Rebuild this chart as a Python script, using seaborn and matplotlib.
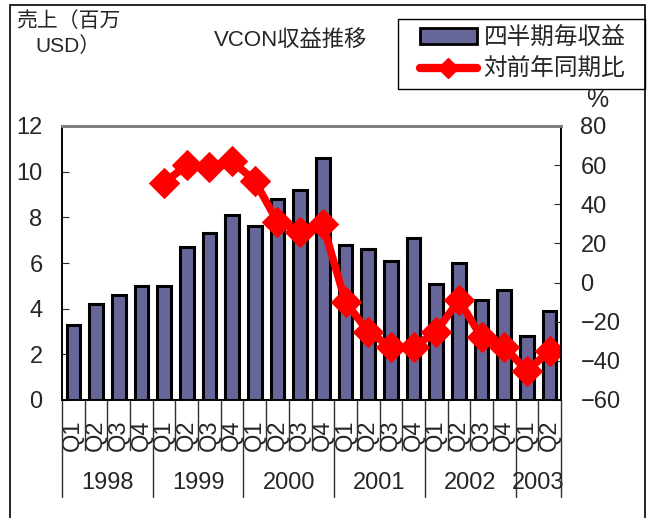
import matplotlib.pyplot as plt
import seaborn as sns
import pandas as pd
from matplotlib.patches import Rectangle, Patch
from matplotlib.lines import Line2D

# data
years = ['1998', '1999', '2000', '2001', '2002', '2003']
year_sizes = [4, 4, 4, 4, 4, 2]
quarters = ['Q1', 'Q2', 'Q3', 'Q4'] * 5 + ['Q1', 'Q2']
revenue = [3.3, 4.2, 4.6, 5.0, 5.0, 6.7, 7.3, 8.1, 7.6, 8.8, 9.2, 10.6,
           6.8, 6.6, 6.1, 7.1, 5.1, 6.0, 4.4, 4.8, 2.8, 3.9]
yoy = [None, None, None, None, 51, 60, 59, 62, 52, 31, 26, 30,
       -10, -25, -33, -33, -25, -9, -28, -33, -45, -35]

bar_color = '#666699'
line_color = '#ff0000'

sns.set_style('white')
plt.rcParams['font.family'] = ['Liberation Sans', 'Noto Sans CJK JP']

df = pd.DataFrame({'pos': range(len(revenue)), 'revenue': revenue,
                   'yoy': pd.to_numeric(pd.Series(yoy), errors='coerce')})

W, H = 648, 518
fig = plt.figure(figsize=(W / 100, H / 100), dpi=100)
ax = fig.add_axes([62 / W, 1 - 400 / H, (561 - 62) / W, 274 / H])

# bars
sns.barplot(data=df, x='pos', y='revenue', color=bar_color, saturation=1,
            edgecolor='black', linewidth=2.2, width=0.6, ax=ax)

# yoy line on second axis
ax2 = ax.twinx()
sns.lineplot(data=df, x='pos', y='yoy', ax=ax2, color=line_color, lw=5.5,
             marker='D', markersize=15, markeredgecolor=line_color)

ax.set_xlim(-0.5, len(revenue) - 0.5)
ax.set_ylim(0, 12)
ax.set_yticks(range(0, 13, 2))
ax2.set_ylim(-60, 80)
ax2.set_yticks(range(-60, 81, 20))
ax.set_xlabel('')
ax.set_ylabel('')
ax2.set_xlabel('')
ax2.set_ylabel('')

ax.set_xticks(range(len(quarters)))
ax.set_xticklabels(quarters, rotation=90)
ax.tick_params(axis='x', length=0, pad=14, labelsize=17)
ax.tick_params(axis='y', direction='in', length=5, labelsize=17, pad=14, left=True)
ax2.tick_params(axis='y', direction='in', length=5, labelsize=17, pad=14, right=True)

for a in (ax, ax2):
    for s in a.spines.values():
        s.set_color('black')
        s.set_linewidth(1.2)
    a.spines['top'].set_color('#808080')
    a.spines['top'].set_linewidth(2)

# category separators below the axis
boundaries = [0]
for n in year_sizes:
    boundaries.append(boundaries[-1] + n)
trans = ax.get_xaxis_transform()
for b in range(len(quarters) + 1):
    depth = -97 / 274 if b in boundaries else -50 / 274
    ax.plot([b - 0.5, b - 0.5], [0, depth], transform=trans, color='#303030',
            lw=1, clip_on=False)

# year labels
for i, yr in enumerate(years):
    center = (boundaries[i] + boundaries[i + 1] - 1) / 2
    ax.text(center, -83 / 274, yr, transform=trans, ha='center', va='center',
            fontsize=17)

# texts
fig.text(291 / W, 1 - 40 / H, 'VCON収益推移', ha='center', va='center', fontsize=16)
fig.text(68 / W, 1 - 11 / H, '売上（百万\nUSD）', ha='center', va='top',
         fontsize=15, linespacing=1.35)
fig.text(597 / W, 1 - 100 / H, '%', ha='center', va='center', fontsize=18)

# legend box drawn separately, entries placed inside it
fig.add_artist(Rectangle((398 / W, 1 - 89 / H), (645 - 398) / W, 70 / H,
                         transform=fig.transFigure, facecolor='white',
                         edgecolor='black', lw=1))
handles = [Patch(facecolor=bar_color, edgecolor='black', linewidth=2),
           Line2D([], [], color=line_color, lw=6, marker='D', markersize=10)]
leg = fig.legend(handles, ['四半期毎収益', '対前年同期比'], loc='upper left',
                 bbox_to_anchor=(420 / W, 1 - 27 / H), fontsize=17,
                 frameon=False, borderpad=0, handlelength=2.4,
                 handletextpad=0.3, labelspacing=0.4, borderaxespad=0)

# outer frame
fig.add_artist(Rectangle((10 / W, -0.05), (645 - 10) / W, 1 - 5 / H + 0.05,
                         transform=fig.transFigure, fill=False,
                         edgecolor='black', lw=1.2, clip_on=False))

plt.savefig('out.png', dpi=100)
